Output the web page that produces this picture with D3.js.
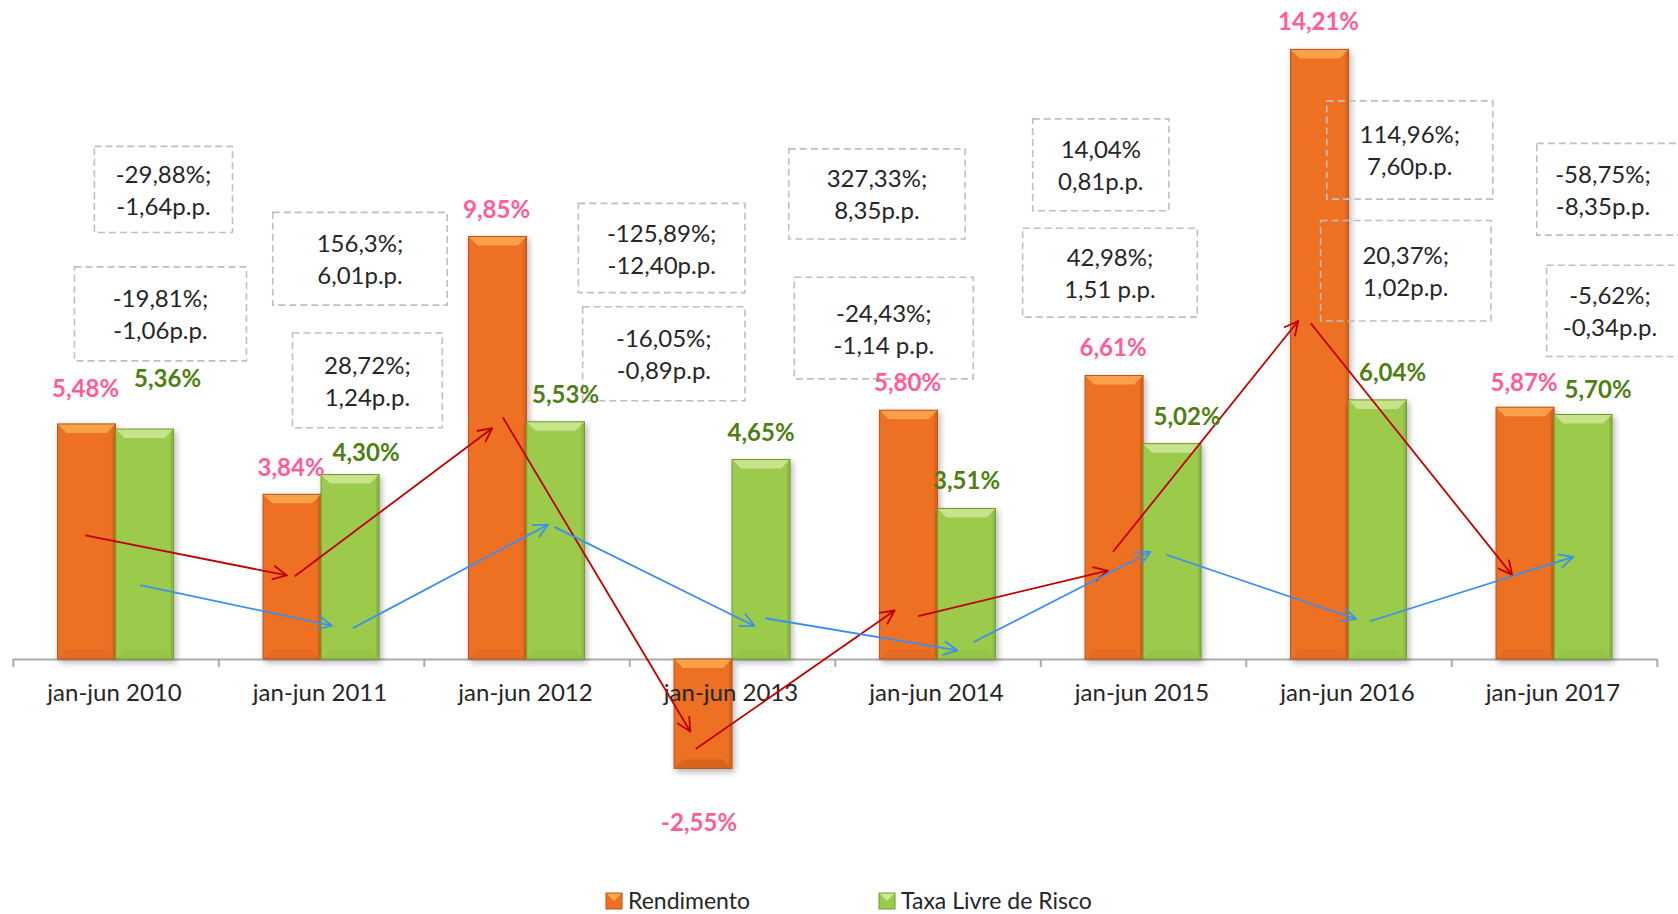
<!DOCTYPE html>
<html>
<head>
<meta charset="utf-8">
<script src="https://cdn.jsdelivr.net/npm/d3@7"></script>
<style>
  body { margin: 0; background: #fff; }
  svg { display: block; font-family: Lato, "Open Sans", sans-serif; }
</style>
</head>
<body>
<svg id="chart" width="1678" height="914"></svg>
<script>
// DATA

var categories = ["jan-jun 2010", "jan-jun 2011", "jan-jun 2012", "jan-jun 2013",
                  "jan-jun 2014", "jan-jun 2015", "jan-jun 2016", "jan-jun 2017"];
var seriesNames = ["Rendimento", "Taxa Livre de Risco"];
var rendimento = [5.48, 3.84, 9.85, -2.55, 5.80, 6.61, 14.21, 5.87];
var taxaLivre  = [5.36, 4.30, 5.53, 4.65, 3.51, 5.02, 6.04, 5.70];
var rendLabels = ["5,48%", "3,84%", "9,85%", "-2,55%", "5,80%", "6,61%", "14,21%", "5,87%"];
var taxaLabels = ["5,36%", "4,30%", "5,53%", "4,65%", "3,51%", "5,02%", "6,04%", "5,70%"];

// variation notes between consecutive periods
var rendNotes = [["-29,88%;", "-1,64p.p."], ["156,3%;", "6,01p.p."], ["-125,89%;", "-12,40p.p."],
                 ["327,33%;", "8,35p.p."], ["14,04%", "0,81p.p."], ["114,96%;", "7,60p.p."],
                 ["-58,75%;", "-8,35p.p."]];
var taxaNotes = [["-19,81%;", "-1,06p.p."], ["28,72%;", "1,24p.p."], ["-16,05%;", "-0,89p.p."],
                 ["-24,43%;", "-1,14 p.p."], ["42,98%;", "1,51 p.p."], ["20,37%;", "1,02p.p."],
                 ["-5,62%;", "-0,34p.p."]];

// LAYOUT (category position units on x, percent on y)

var rendBoxes = [[0.397, 1.069, 11.95, 9.94], [1.265, 2.114, 10.41, 8.25], [2.752, 3.563, 10.62, 8.54],
                 [3.776, 4.634, 11.89, 9.79], [4.963, 5.626, 12.59, 10.45], [6.394, 7.202, 13.01, 10.72],
                 [7.416, 8.3, 12.02, 9.88]];
var taxaBoxes = [[0.300, 1.137, 9.14, 6.95], [1.361, 2.090, 7.60, 5.39], [2.773, 3.563, 8.21, 6.02],
                 [3.803, 4.674, 8.90, 6.53], [4.914, 5.764, 10.04, 7.97], [6.364, 7.193, 10.22, 7.88],
                 [7.464, 8.3, 9.18, 7.05]];
var boxTextX = {6: 7.738};
var boxTextX2 = {6: 7.772};

var rendArrows = [[0.354, 2.88, 1.333, 1.95], [1.372, 1.93, 2.333, 5.38], [2.385, 5.63, 3.297, -1.69],
                  [3.323, -2.10, 4.291, 1.13], [4.406, 1.00, 5.328, 2.06], [5.354, 2.50, 6.255, 7.88],
                  [6.317, 7.82, 7.296, 1.96]];
var taxaArrows = [[0.620, 1.72, 1.552, 0.78], [1.655, 0.72, 2.604, 3.13], [2.635, 3.08, 3.609, 0.77],
                  [3.662, 0.95, 4.597, 0.20], [4.674, 0.39, 5.536, 2.50], [5.614, 2.43, 6.536, 0.93],
                  [6.604, 0.88, 7.593, 2.38]];

// label offsets from bar end, pixels
var rendShift = [[-1, -36], [-1, -28], [-1, -28], [-4, 53], [-1, -29], [-1, -29], [-1, -29], [-1, -26]];
var taxaShift = [[23, -52], [16, -23], [10, -28], [0, -28], [0, -29], [15, -28], [15, -28], [15, -26]];

var palette = {
  "Rendimento": {base: "#EE7023", light: "#FAA94F", dark: "#C45A1C", line: "#B8541B"},
  "Taxa Livre de Risco": {base: "#9CCB4B", light: "#CFE797", dark: "#7BA83A", line: "#6F9A31"}
};

var svg = d3.select("#chart");
var defs = svg.append("defs");

var shadow = defs.append("filter").attr("id", "shadow")
    .attr("x", "-30%").attr("y", "-10%").attr("width", "170%").attr("height", "130%");
shadow.append("feDropShadow").attr("dx", 2).attr("dy", 3).attr("stdDeviation", 3)
    .attr("flood-color", "#000").attr("flood-opacity", 0.3);

function marker(id, color) {
  defs.append("marker").attr("id", id)
      .attr("viewBox", "0 0 16 16").attr("refX", 15).attr("refY", 8)
      .attr("markerWidth", 16).attr("markerHeight", 16)
      .attr("markerUnits", "userSpaceOnUse").attr("orient", "auto")
    .append("path").attr("d", "M1,1 L15,8 L1,15")
      .attr("fill", "none").attr("stroke", color).attr("stroke-width", 1.8);
}
marker("headRed", "#C00000");
marker("headBlue", "#3D8EF0");

// SCALES

var plotLeft = 12.8, plotRight = 1656.8;
var x0 = d3.scaleBand().domain(categories).range([plotLeft, plotRight]).padding(0);
var x1 = d3.scaleBand().domain(seriesNames).range([0, x0.bandwidth()]).paddingInner(0).paddingOuter(0.7716);
var xPos = d3.scaleLinear().domain([0, 8]).range([plotLeft, plotRight]);
var y = d3.scaleLinear().domain([-5, 15]).range([659 + 5 * 42.9, 659 - 15 * 42.9]);

// AXIS

var gAxis = svg.append("g").attr("transform", "translate(0," + y(0) + ")");
gAxis.call(d3.axisBottom(xPos).tickValues(d3.range(0, 9)).tickFormat("").tickSize(8).tickSizeOuter(0));
gAxis.selectAll("path, line").attr("stroke", "#ABABAB").attr("stroke-width", 2);

// BARS

var bars = svg.append("g");

function drawBar(g, x, w, v, colors) {
  var yT = Math.min(y(v), y(0)), yB = Math.max(y(v), y(0));
  var b = Math.min(9, (yB - yT) / 2);
  var bar = g.append("g").attr("filter", "url(#shadow)");
  bar.append("rect").attr("x", x).attr("y", yT).attr("width", w).attr("height", yB - yT)
     .attr("fill", colors.base);
  bar.append("path")
     .attr("d", "M" + x + "," + yT + "L" + (x + w) + "," + yT + "L" + (x + w - b) + "," + (yT + b) +
                "L" + (x + b) + "," + (yT + b) + "Z")
     .attr("fill", colors.light).attr("opacity", 0.85);
  bar.append("path")
     .attr("d", "M" + x + "," + yB + "L" + (x + w) + "," + yB + "L" + (x + w - b) + "," + (yB - b) +
                "L" + (x + b) + "," + (yB - b) + "Z")
     .attr("fill", colors.dark).attr("opacity", v < 0 ? 0.5 : 0.2);
  bar.append("path")
     .attr("d", "M" + (x + w) + "," + yT + "L" + (x + w) + "," + yB + "L" + (x + w - 3) + "," + (yB - 3) +
                "L" + (x + w - 3) + "," + (yT + 3) + "Z")
     .attr("fill", colors.dark).attr("opacity", 0.5);
  bar.append("rect").attr("x", x).attr("y", yT).attr("width", w).attr("height", yB - yT)
     .attr("fill", "none").attr("stroke", colors.line).attr("stroke-width", 1);
}

categories.forEach(function (c, i) {
  drawBar(bars, x0(c) + x1("Rendimento"), x1.bandwidth(), rendimento[i], palette["Rendimento"]);
  drawBar(bars, x0(c) + x1("Taxa Livre de Risco"), x1.bandwidth(), taxaLivre[i], palette["Taxa Livre de Risco"]);
});

// CATEGORY LABELS

svg.append("g").selectAll("text").data(categories).enter().append("text")
   .attr("x", function (d) { return x0(d) + x0.bandwidth() / 2 - 1; })
   .attr("y", y(0) + 32)
   .attr("text-anchor", "middle").attr("dominant-baseline", "central")
   .attr("font-size", 24).attr("fill", "#262626")
   .text(function (d) { return d; });

// NOTE BOXES

function drawNotes(boxes, notes, tx) {
  var g = svg.append("g");
  boxes.forEach(function (bx, i) {
    var left = xPos(bx[0]), right = xPos(bx[1]), top = y(bx[2]), bottom = y(bx[3]);
    g.append("rect").attr("x", left).attr("y", top).attr("width", right - left).attr("height", bottom - top)
     .attr("fill", "none").attr("stroke", "#BFBFBF").attr("stroke-width", 1.6)
     .attr("stroke-dasharray", "7,4");
    var cx = tx[i] !== undefined ? xPos(tx[i]) : (left + right) / 2;
    var cy = (top + bottom) / 2;
    notes[i].forEach(function (line, k) {
      g.append("text").attr("x", cx).attr("y", cy + (k === 0 ? -16 : 16))
       .attr("text-anchor", "middle").attr("dominant-baseline", "central")
       .attr("font-size", 24).attr("fill", "#262626").text(line);
    });
  });
}
drawNotes(rendBoxes, rendNotes, boxTextX);
drawNotes(taxaBoxes, taxaNotes, boxTextX2);

// ARROWS

function drawArrows(list, color, head) {
  svg.append("g").selectAll("line").data(list).enter().append("line")
     .attr("x1", function (d) { return xPos(d[0]); })
     .attr("y1", function (d) { return y(d[1]); })
     .attr("x2", function (d) { return xPos(d[2]); })
     .attr("y2", function (d) { return y(d[3]); })
     .attr("stroke", color).attr("stroke-width", 1.8)
     .attr("marker-end", "url(#" + head + ")");
}
drawArrows(rendArrows, "#C00000", "headRed");
drawArrows(taxaArrows, "#3D8EF0", "headBlue");

// VALUE LABELS

var gLab = svg.append("g").attr("font-weight", "bold").attr("font-size", 24)
              .attr("text-anchor", "middle").attr("dominant-baseline", "central");
categories.forEach(function (c, i) {
  var xr = x0(c) + x1("Rendimento") + x1.bandwidth() / 2;
  var xt = x0(c) + x1("Taxa Livre de Risco") + x1.bandwidth() / 2;
  gLab.append("text").attr("x", xr + rendShift[i][0]).attr("y", y(rendimento[i]) + rendShift[i][1])
      .attr("fill", "#FF5C9C").text(rendLabels[i]);
  gLab.append("text").attr("x", xt + taxaShift[i][0]).attr("y", y(taxaLivre[i]) + taxaShift[i][1])
      .attr("fill", "#4F7F12").text(taxaLabels[i]);
});

// LEGEND

var legend = svg.append("g");
var legendX = [606, 879];
seriesNames.forEach(function (s, i) {
  var c = palette[s];
  var lx = legendX[i], ly = 893, sz = 16;
  legend.append("rect").attr("x", lx).attr("y", ly).attr("width", sz).attr("height", sz).attr("fill", c.base);
  legend.append("path")
        .attr("d", "M" + lx + "," + ly + "L" + (lx + sz) + "," + ly + "L" + (lx + sz / 2) + "," + (ly + sz / 2) + "Z")
        .attr("fill", c.light);
  legend.append("rect").attr("x", lx).attr("y", ly).attr("width", sz).attr("height", sz)
        .attr("fill", "none").attr("stroke", c.line).attr("stroke-width", 1);
  legend.append("text").attr("x", lx + 22).attr("y", 900)
        .attr("dominant-baseline", "central").attr("font-size", 23).attr("fill", "#262626").text(s);
});
</script>
</body>
</html>
